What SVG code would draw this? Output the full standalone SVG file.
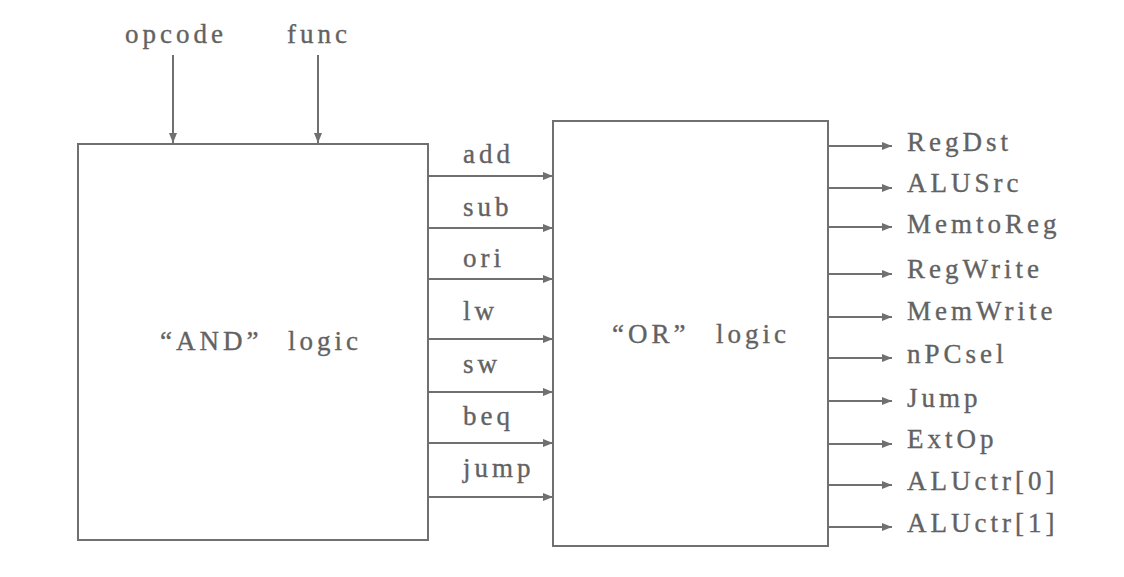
<svg xmlns="http://www.w3.org/2000/svg" width="1124" height="577" viewBox="0 0 1124 577">
<style>
.t{font-family:"Liberation Serif","Times New Roman",serif;font-size:27px;fill:#626262;stroke:#626262;stroke-width:0.35;letter-spacing:4px}
.box{fill:#fff;stroke:#707070;stroke-width:2}
.c line{stroke:#707070;stroke-width:2;marker-end:url(#ah)}
</style>
<defs>
<marker id="ah" markerUnits="userSpaceOnUse" markerWidth="10" markerHeight="8" refX="10" refY="4" orient="auto">
<path d="M0,0 L10,4 L0,8 Z" fill="#707070"/>
</marker>
</defs>
<rect width="1124" height="577" fill="#fff"/>
<g id="and-logic">
<rect class="box" x="78" y="144" width="350" height="396"/>
<text class="t" x="160" y="350">“AND”<tspan x="288">logic</tspan></text>
</g>
<g id="or-logic">
<rect class="box" x="553" y="121" width="275" height="425"/>
<text class="t" x="612" y="343">“OR”<tspan x="716">logic</tspan></text>
</g>
<g id="inputs">
<text class="t" x="125" y="43">opcode</text>
<text class="t" x="287" y="43">func</text>
</g>
<g id="mid-labels">
<text class="t" x="463" y="163">add</text>
<text class="t" x="463" y="216">sub</text>
<text class="t" x="463" y="267">ori</text>
<text class="t" x="463" y="320">lw</text>
<text class="t" x="463" y="373">sw</text>
<text class="t" x="463" y="425">beq</text>
<text class="t" x="463" y="477">jump</text>
</g>
<g id="outputs">
<text class="t" x="907" y="151">RegDst</text>
<text class="t" x="907" y="192">ALUSrc</text>
<text class="t" x="907" y="233">MemtoReg</text>
<text class="t" x="907" y="278">RegWrite</text>
<text class="t" x="907" y="320">MemWrite</text>
<text class="t" x="907" y="363">nPCsel</text>
<text class="t" x="907" y="407">Jump</text>
<text class="t" x="907" y="448">ExtOp</text>
<text class="t" x="907" y="490">ALUctr[0]</text>
<text class="t" x="907" y="532">ALUctr[1]</text>
</g>
<g id="connectors" class="c">
<line x1="173" y1="55" x2="173" y2="143"/>
<line x1="318" y1="55" x2="318" y2="143"/>
<line x1="428" y1="176" x2="553" y2="176"/>
<line x1="428" y1="228" x2="553" y2="228"/>
<line x1="428" y1="279" x2="553" y2="279"/>
<line x1="428" y1="339" x2="553" y2="339"/>
<line x1="428" y1="392" x2="553" y2="392"/>
<line x1="428" y1="443" x2="553" y2="443"/>
<line x1="428" y1="497" x2="553" y2="497"/>
<line x1="828" y1="146" x2="892" y2="146"/>
<line x1="828" y1="188" x2="892" y2="188"/>
<line x1="828" y1="227" x2="892" y2="227"/>
<line x1="828" y1="274" x2="892" y2="274"/>
<line x1="828" y1="317" x2="892" y2="317"/>
<line x1="828" y1="358" x2="892" y2="358"/>
<line x1="828" y1="401" x2="892" y2="401"/>
<line x1="828" y1="444" x2="892" y2="444"/>
<line x1="828" y1="485" x2="892" y2="485"/>
<line x1="828" y1="527" x2="892" y2="527"/>
</g>
</svg>
